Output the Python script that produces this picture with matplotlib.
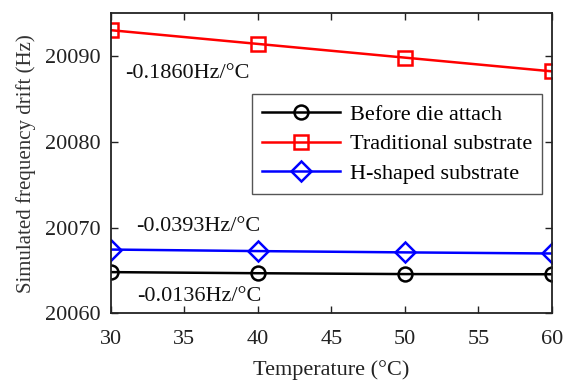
import matplotlib
matplotlib.use("Agg")
import matplotlib.pyplot as plt

plt.rcParams['font.family'] = ['Liberation Serif', 'DejaVu Serif']
plt.rcParams['mathtext.fontset'] = 'stix'

temps = [30, 40, 50, 60]
before = [20064.8, 20064.67, 20064.57, 20064.55]
traditional = [20093.0, 20091.4, 20089.8, 20088.2]
hshaped = [20067.43, 20067.25, 20067.1, 20066.97]
labels = ["Before die attach", "Traditional substrate", "H-shaped substrate"]
slopes = ["-0.1860Hz/°C", "-0.0393Hz/°C", "-0.0136Hz/°C"]

fig = plt.figure(figsize=(5.65, 3.83), dpi=100)
ax = fig.add_axes([0.196, 0.182, 0.781, 0.784])

lw = 1.8
ms = 10
ax.plot(temps, before, color='black', marker='o', markersize=ms, markerfacecolor='none',
        markeredgewidth=lw, linewidth=lw, label=labels[0])
ax.plot(temps, traditional, color='red', marker='s', markersize=ms, markerfacecolor='none',
        markeredgewidth=lw, linewidth=lw, label=labels[1])
ax.plot(temps, hshaped, color='blue', marker='D', markersize=ms, markerfacecolor='none',
        markeredgewidth=lw, linewidth=lw, label=labels[2])

fs = 16
ax.text(31.0, 20087.9, slopes[0], fontsize=fs, va='center', ha='left', color='#111111')
ax.text(31.7, 20070.15, slopes[1], fontsize=fs, va='center', ha='left', color='#111111')
ax.text(31.77, 20062.0, slopes[2], fontsize=fs, va='center', ha='left', color='#111111')

ax.set_xlim(30, 60)
ax.set_ylim(20060, 20095)
ax.set_xticks([30, 35, 40, 45, 50, 55, 60])
ax.set_yticks([20060, 20070, 20080, 20090])
ax.tick_params(direction='in', top=True, right=True, labelsize=fs, length=5, width=1,
               pad=7, colors='#222222')
ax.tick_params(axis='x', pad=12)
ax.ticklabel_format(useOffset=False, style='plain', axis='y')
for s in ax.spines.values():
    s.set_linewidth(1.3)
    s.set_color('#222222')

ax.set_xlabel("Temperature (°C)", fontsize=fs, labelpad=8, color='#222222')
ax.set_ylabel("Simulated frequency drift (Hz)", fontsize=15, labelpad=7, color='#333333')

leg = ax.legend(loc='upper right', bbox_to_anchor=(0.977, 0.729), fontsize=fs,
                frameon=True, fancybox=False, edgecolor='#555555', framealpha=1,
                handlelength=3.5, borderpad=0.45, labelspacing=0.4, handletextpad=0.45,
                borderaxespad=0)
leg.get_frame().set_linewidth(1.0)

fig.savefig("out.png", dpi=100)
